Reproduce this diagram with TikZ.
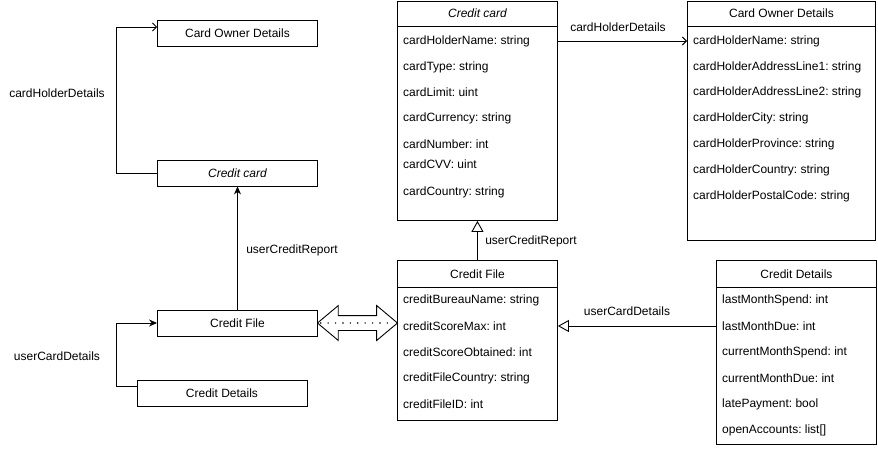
\documentclass[tikz,border=0pt]{standalone}
\usepackage{fontspec}
\setmainfont{Liberation Sans}
\usetikzlibrary{shapes.arrows,arrows.meta,calc}

\begin{document}
\frenchspacing
\begin{tikzpicture}[x=1pt,y=-1pt,
    font=\fontsize{12}{14}\selectfont,
    smallbox/.style={draw,line width=0.9pt,minimum height=26pt,inner sep=0pt},
    classbox/.style={draw,line width=0.9pt,anchor=north west,inner sep=0pt},
    field/.style={anchor=west,inner sep=0pt},
    link/.style={line width=0.9pt},
    filledtip/.style={-{Stealth[length=8pt,width=7pt]}},
    opentip/.style={-{Straight Barb[length=4pt,width=8pt]}},
    hollowtip/.style={-{Triangle[open,length=11pt,width=12pt,fill=white]}},
    fatlink/.style={double arrow,draw,line width=0.9pt,inner xsep=0pt,inner ysep=7pt,
        minimum height=80pt,double arrow head extend=10pt,double arrow tip angle=80},
    dotline/.style={line width=1.6pt,line cap=round,dash pattern=on 0pt off 7.4pt,
        shorten <=4pt,shorten >=4pt}]
    \useasboundingbox (0,0) rectangle (878,451);

    %---------------------------------------------------------------%
    % small overview on the left
    \node [smallbox,minimum width=160pt] (OwnerSmall)  at (237.5,33)  {Card Owner Details};
    \node [smallbox,minimum width=160pt] (CardSmall)   at (237.5,173) {\itshape Credit card};
    \node [smallbox,minimum width=160pt] (FileSmall)   at (237.5,323) {Credit File};
    \node [smallbox,minimum width=170pt] (DetailSmall) at (222,393)   {Credit Details};

    \draw [link,opentip] (CardSmall.west) -- ++(-41,0) |- ($(OwnerSmall.west)+(0,-6)$);
    \draw [link,filledtip] (FileSmall.north) -- (CardSmall.south);
    \draw [link,filledtip] ($(DetailSmall.west)+(0,-7)$) -- ++(-20,0) |- (FileSmall.west);
    \node at (57,93)   {cardHolderDetails};
    \node at (292,250) {userCreditReport};
    \node at (57,356)  {userCardDetails};

    %---------------------------------------------------------------%
    % Credit card
    \node [classbox,minimum width=160pt,minimum height=219pt] (CardBody) at (397,1) {};
    \node at ($(CardBody.north)+(0,12.5)$) {\itshape Credit card};
    \draw [link] ($(CardBody.north west)+(0,25)$) -- ($(CardBody.north east)+(0,25)$);
    \foreach \y/\t [count=\i] in {41/cardHolderName: string,67/cardType: string,
        92/cardLimit: uint,118/cardCurrency: string,144/cardNumber: int,
        164/cardCVV: uint,192/cardCountry: string}{% one row per field
        \node [field] (Card\i) at (403,\y) {\t};
    }
    %---------------------------------------------------------------%
    % Card Owner Details
    \node [classbox,minimum width=188pt,minimum height=239pt] (OwnerBody) at (687,1) {};
    \node at ($(OwnerBody.north)+(0,12.5)$) {Card Owner Details};
    \draw [link] ($(OwnerBody.north west)+(0,25)$) -- ($(OwnerBody.north east)+(0,25)$);
    \foreach \y/\t [count=\i] in {41/cardHolderName: string,67/cardHolderAddressLine1: string,
        92/cardHolderAddressLine2: string,118/cardHolderCity: string,
        144/cardHolderProvince: string,170/cardHolderCountry: string,
        196/cardHolderPostalCode: string}{% one row per field
        \node [field] (Owner\i) at (693,\y) {\t};
    }
    %---------------------------------------------------------------%
    % Credit File
    \node [classbox,minimum width=160pt,minimum height=160pt] (FileBody) at (397,260) {};
    \node at ($(FileBody.north)+(0,14)$) {Credit File};
    \draw [link] ($(FileBody.north west)+(0,27)$) -- ($(FileBody.north east)+(0,27)$);
    \foreach \y/\t [count=\i] in {300/creditBureauName: string,326/creditScoreMax: int,
        352/creditScoreObtained: int,378/creditFileCountry: string,404/creditFileID: int}{%
        \node [field] (File\i) at (403,\y) {\t};
    }
    %---------------------------------------------------------------%
    % Credit Details
    \node [classbox,minimum width=160pt,minimum height=184pt] (DetailBody) at (716,260) {};
    \node at ($(DetailBody.north)+(0,14)$) {Credit Details};
    \draw [link] ($(DetailBody.north west)+(0,27)$) -- ($(DetailBody.north east)+(0,27)$);
    \foreach \y/\t [count=\i] in {300/lastMonthSpend: int,326/lastMonthDue: int,
        352/currentMonthSpend: int,378/currentMonthDue: int,404/latePayment: bool,
        430/openAccounts: list[]}{%
        \node [field] (Detail\i) at (722,\y) {\t};
    }
    %---------------------------------------------------------------%
    % connectors between the classes
    \draw [link,opentip] (CardBody.east |- Card1) -- (OwnerBody.west |- Card1);
    \draw [link,hollowtip] (FileBody.north) -- (CardBody.south);
    \draw [link,hollowtip] (DetailBody.west |- Detail2) -- (FileBody.east |- Detail2);
    \node at (618,27)  {cardHolderDetails};
    \node at (531,241) {userCreditReport};
    \node at (627,311) {userCardDetails};

    \node [fatlink] (Link) at ($(FileSmall.east)!0.5!(FileBody.west |- FileSmall.east)$) {};
    \draw [dotline] (Link.west) -- (Link.east);
    %---------------------------------------------------------------%
\end{tikzpicture}
\end{document}
